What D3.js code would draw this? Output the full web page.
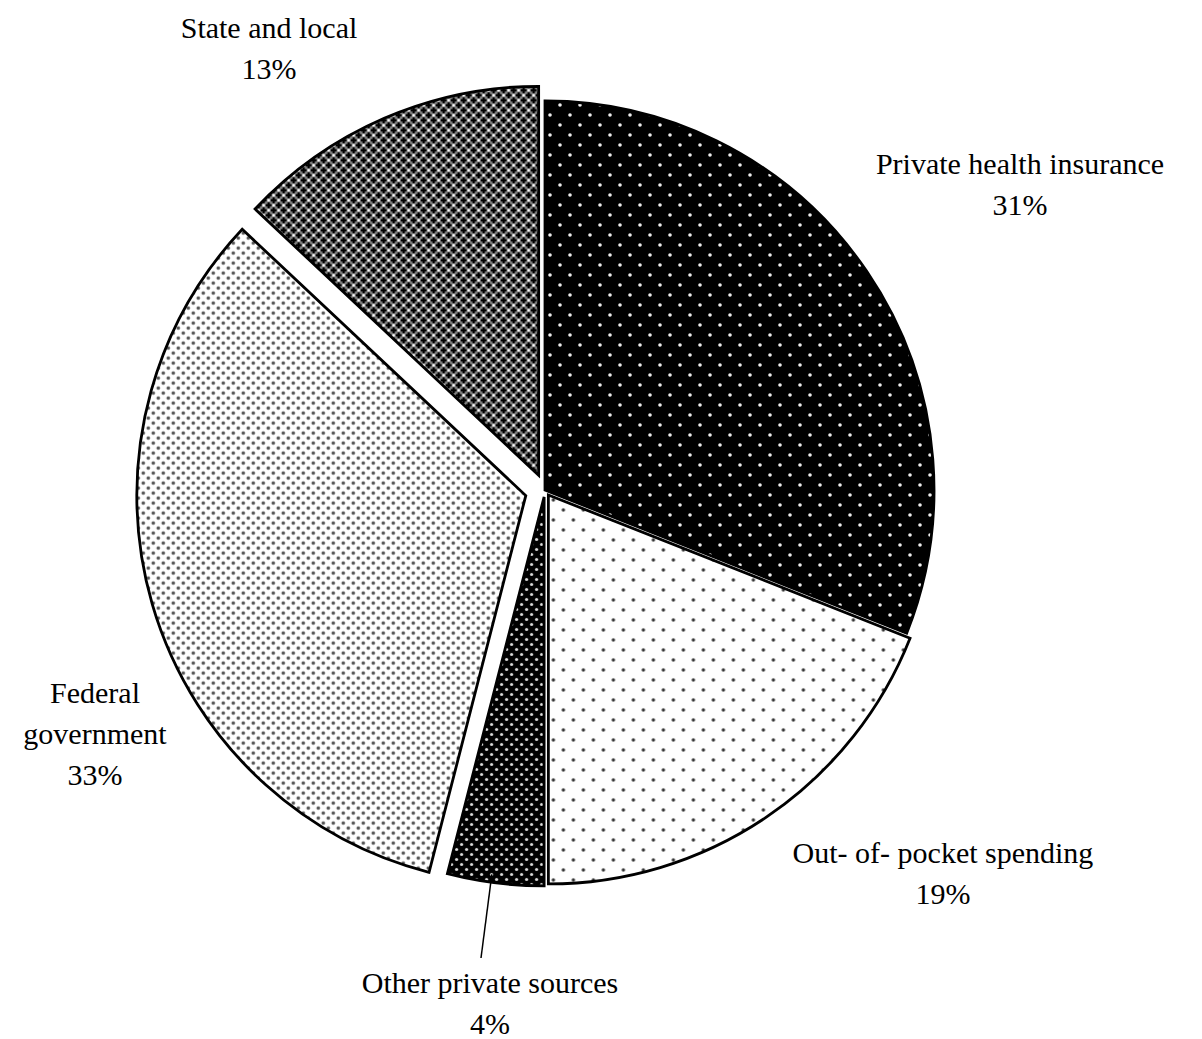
<!DOCTYPE html>
<html>
<head>
<meta charset="utf-8">
<script src="https://cdn.jsdelivr.net/npm/d3@7/dist/d3.min.js"></script>
<style>
  html, body { margin: 0; padding: 0; background: #fff; }
  svg { display: block; }
  text { font-family: "Liberation Serif", "Times New Roman", serif; font-size: 30px; fill: #000; }
</style>
</head>
<body>
<svg id="chart" width="1202" height="1039"></svg>
<script>
// ---- data ----
const categories = ["Private health insurance", "Out- of- pocket spending", "Other private sources", "Federal government", "State and local"];
const values = [31, 19, 4, 33, 13];
const labelLines = [["Private health insurance"], ["Out- of- pocket spending"], ["Other private sources"], ["Federal", "government"], ["State and local"]];
const patternIds = ["pPHI", "pOOP", "pOther", "pFed", "pState"];

// ---- layout constants ----
const W = 1202, H = 1039;
const cx = 545, cy = 490, R = 389;
const explode = [0, 6, 7, 20, 16];
const labelAnchor = [[475, -327], [398, 362], [-55, 492], [-450, 202], [-276, -463]];
const lineGap = 41;

const svg = d3.select("#chart");
const defs = svg.append("defs");

function dotPattern(id, size, bg, dot, r, pts) {
  const p = defs.append("pattern").attr("id", id).attr("patternUnits", "userSpaceOnUse")
    .attr("width", size).attr("height", size);
  p.append("rect").attr("width", size).attr("height", size).attr("fill", bg);
  pts.forEach(([x, y]) => p.append("circle").attr("cx", x).attr("cy", y).attr("r", r).attr("fill", dot));
}
dotPattern("pPHI", 20, "#000", "#eee", 1.8, [[5, 5], [15, 15]]);
dotPattern("pOOP", 20, "#fff", "#333", 1.7, [[5, 5], [15, 15]]);
dotPattern("pOther", 10, "#000", "#ddd", 1.6, [[2.5, 2.5], [7.5, 7.5]]);
dotPattern("pFed", 10, "#fff", "#555", 1.8, [[2.5, 2.5], [7.5, 7.5]]);
// state & local: crosses on gray with white dots
(function () {
  const s = 10;
  const p = defs.append("pattern").attr("id", "pState").attr("patternUnits", "userSpaceOnUse")
    .attr("width", s).attr("height", s);
  p.append("rect").attr("width", s).attr("height", s).attr("fill", "#8c8c8c");
  const cross = (x, y) => {
    p.append("rect").attr("x", x - 3).attr("y", y - 1.2).attr("width", 6).attr("height", 2.4).attr("fill", "#000");
    p.append("rect").attr("x", x - 1.2).attr("y", y - 3).attr("width", 2.4).attr("height", 6).attr("fill", "#000");
  };
  cross(0, 0); cross(s, 0); cross(0, s); cross(s, s); cross(s / 2, s / 2);
  [[s / 2, 0], [s / 2, s], [0, s / 2], [s, s / 2]].forEach(([x, y]) =>
    p.append("circle").attr("cx", x).attr("cy", y).attr("r", 1.3).attr("fill", "#fff"));
})();

const pie = d3.pie().sort(null).value(d => d)(values);
const arc = d3.arc().innerRadius(0).outerRadius(R);

const g = svg.append("g").attr("transform", `translate(${cx},${cy})`);

pie.forEach((d, i) => {
  const mid = (d.startAngle + d.endAngle) / 2;
  const dx = Math.sin(mid) * explode[i], dy = -Math.cos(mid) * explode[i];
  g.append("path")
    .attr("d", arc(d))
    .attr("transform", `translate(${dx},${dy})`)
    .attr("fill", `url(#${patternIds[i]})`)
    .attr("stroke", "#000")
    .attr("stroke-width", 2.8)
    .attr("stroke-linejoin", "miter");
});

// labels
pie.forEach((d, i) => {
  const [ax, ay] = labelAnchor[i];
  const lines = labelLines[i].concat([values[i] + "%"]);
  lines.forEach((t, k) => {
    g.append("text")
      .attr("x", ax).attr("y", ay + k * lineGap)
      .attr("text-anchor", "middle")
      .attr("dominant-baseline", "central")
      .text(t);
  });
});

// leader line for the small slice
(function () {
  const i = 2, d = pie[i];
  const mid = (d.startAngle + d.endAngle) / 2;
  const dx = Math.sin(mid) * explode[i], dy = -Math.cos(mid) * explode[i];
  const r0 = R - 8;
  const x0 = dx + Math.sin(mid + 0.012) * r0, y0 = dy - Math.cos(mid + 0.012) * r0;
  const [ax, ay] = labelAnchor[i];
  g.append("line")
    .attr("x1", x0).attr("y1", y0)
    .attr("x2", ax - 9).attr("y2", ay - 24)
    .attr("stroke", "#000").attr("stroke-width", 1.5);
})();
</script>
</body>
</html>
